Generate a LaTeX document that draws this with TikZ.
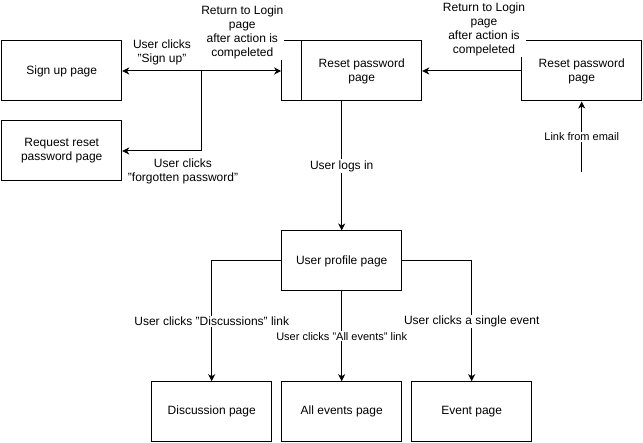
\documentclass[tikz,border=0pt]{standalone}
\usepackage{fontspec}
\setmainfont{Liberation Sans}
\usetikzlibrary{arrows.meta}
\begin{document}
\begin{tikzpicture}[x=1pt,y=-1pt,
  page/.style={draw,line width=1pt,minimum width=120pt,minimum height=60pt,inner sep=2pt,align=center,font=\fontsize{12pt}{14pt}\selectfont},
  conn/.style={line width=1pt,-{Stealth[length=7pt,width=7pt,inset=2pt]}},
  lbl/.style={fill=white,inner xsep=1pt,inner ysep=1pt,align=center,font=\fontsize{12pt}{14pt}\selectfont},
  slbl/.style={fill=white,inner xsep=1pt,inner ysep=1pt,align=center,font=\fontsize{11pt}{13pt}\selectfont}]
\useasboundingbox (0,0) rectangle (643,443);
% boxes
\node[page] (signup) at (61.7,71) {Sign up page};
\node[page] (reqreset) at (61.7,151) {Request reset\\password page};
\node[page,minimum width=140pt,text width=100pt,xshift=0pt] (reset) at (351.7,71) {};
\draw[line width=1pt] ([xshift=20pt]reset.north west) -- ([xshift=20pt]reset.south west);
\node[font=\fontsize{12pt}{14pt}\selectfont,align=center] (resettxt) at (361.7,71) {Reset password\\page};
\node[page] (reset2) at (581.7,71) {Reset password\\page};
\node[page] (profile) at (341.7,261) {User profile page};
\node[page] (disc) at (211.7,411.7) {Discussion page};
\node[page] (allev) at (341.7,411.7) {All events page};
\node[page] (event) at (471.7,411.7) {Event page};
% connectors
\coordinate (j1) at (201.7,71);
\draw[conn,{Stealth[length=7pt,width=7pt,inset=2pt]}-{Stealth[length=7pt,width=7pt,inset=2pt]}] (signup.east) -- (reset.west);
\draw[conn] (j1) |- (reqreset.east);
\draw[conn] (reset2.west) -- (reset.east);
\coordinate (email) at (581.7,172);
\draw[conn] (email) -- node[slbl] {Link from email} (reset2.south);
\draw[conn] (reset.south -| profile.north) -- node[lbl] {User logs in} (profile.north);
\draw[conn] (profile.west) -| node[lbl,pos=0.75] {User clicks "Discussions" link} (disc.north);
\draw[conn] (profile.south) -- node[slbl,pos=0.5] {User clicks "All events" link} (allev.north);
\draw[conn] (profile.east) -| node[lbl,pos=0.75] {User clicks a single event} (event.north);
% free labels
\node[lbl] (lsign) at (162,52.5) {User clicks\\"Sign up"};
\node[lbl] (lforgot) at (183,171.5) {User clicks\\"forgotten password"};
\node[lbl,inner xsep=0.5pt] (lret1) at (242.3,32) {Return to Login\\page\\after action is\\compeleted};
\node[lbl] (lret2) at (484,29) {Return to Login\\page\\after action is\\compeleted};
\end{tikzpicture}
\end{document}
